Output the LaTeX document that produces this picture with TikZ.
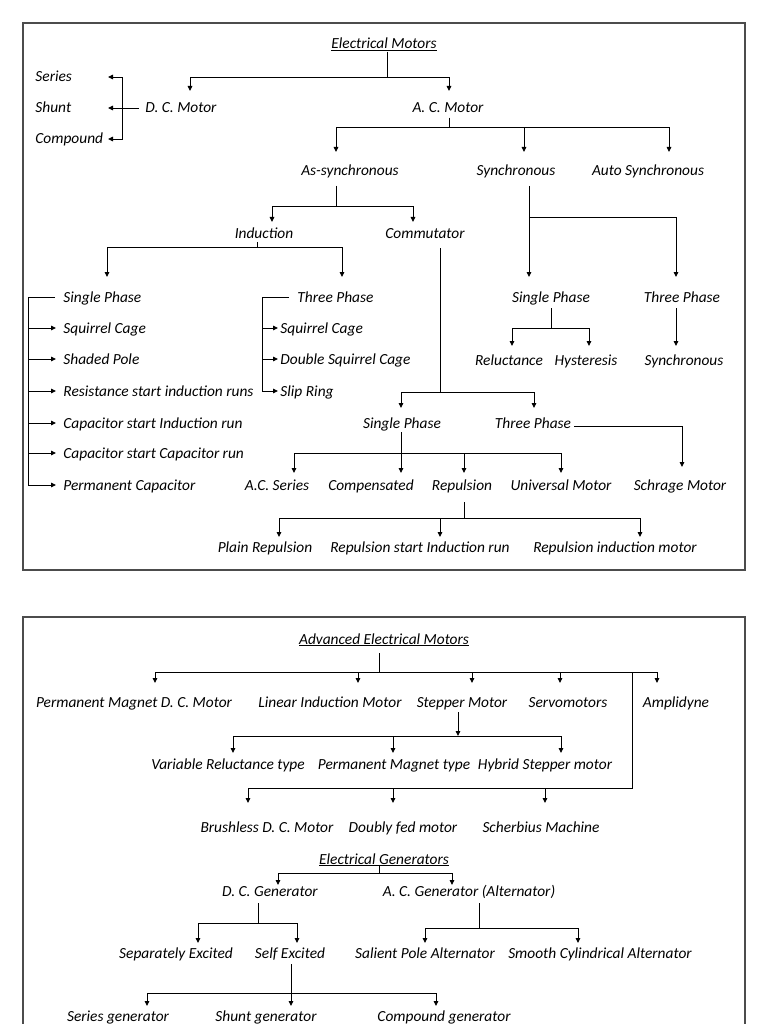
\documentclass[tikz,border=0pt]{standalone}
\usepackage{fontspec}
\setmainfont{Carlito}
\usetikzlibrary{arrows.meta}

\begin{document}
\begin{tikzpicture}[x=1pt,y=-1pt,line width=0.9pt,
    font=\fontsize{15.4}{18}\selectfont\itshape,
    >={Triangle[length=5pt,width=4.5pt]},
    lbl/.style={inner sep=0pt, text height=10pt, text depth=0pt},
    frame/.style={draw=black!70, line width=1.3pt}]
    \fill[white] (0,0) rectangle (768,1024);
    \useasboundingbox (0,0) rectangle (768,1024);
    % Cuadros
    \draw[frame] (23,23) rectangle (745,570);
    \draw[frame] (23,1024) -- (23,617) -- (745,617) -- (745,1024);

    % Electrical Motors
    \node[lbl] (em) at (384,44) {\underline{Electrical Motors}};
    \node[lbl] (dcm) at (181,108) {D. C. Motor};
    \node[lbl] (acm) at (448,108) {A. C. Motor};
    \draw[->] (em.center) ++(3,8) -- ++(0,25) -| ([shift={(9,-17)}]dcm.center);
    \draw[->] (em.center) ++(3,8) -- ++(0,25) -| ([shift={(1,-17)}]acm.center);

    % D. C. Motor
    \node[lbl,anchor=west] (ser) at (35,77) {Series};
    \node[lbl,anchor=west] (shu) at (35,108) {Shunt};
    \node[lbl,anchor=west] (cpd) at (35,139) {Compound};
    \coordinate (db) at (108,108);
    \draw[->] ([xshift=-6pt]dcm.west) -- (db);
    \draw[<->] (db |- ser) -- ++(14,0) |- (db |- cpd);

    % A. C. Motor
    \node[lbl] (asy) at (350,171) {As-synchronous};
    \node[lbl] (syn) at (516,171) {Synchronous};
    \node[lbl] (aut) at (648,171) {Auto Synchronous};
    \draw[->] (acm.center) ++(1,10) -- ++(0,9) -| ([shift={(-14,-19)}]asy.center);
    \draw[->] (acm.center) ++(1,10) -- ++(0,9) -| ([shift={(8,-19)}]syn.center);
    \draw[->] (acm.center) ++(1,10) -- ++(0,9) -| ([shift={(21,-19)}]aut.center);

    % As-synchronous
    \node[lbl] (ind) at (264,233) {Induction};
    \node[lbl] (com) at (425,233) {Commutator};
    \draw[->] (asy.center) ++(-14,15) -- ++(0,20) -| ([shift={(8,-11)}]ind.center);
    \draw[->] (asy.center) ++(-14,15) -- ++(0,20) -| ([shift={(-12,-11)}]com.center);

    % Induction
    \node[lbl,anchor=west] (isp) at (63,297) {Single Phase};
    \node[lbl,anchor=west] (isq) at (63,328) {Squirrel Cage};
    \node[lbl,anchor=west] (ish) at (63,359) {Shaded Pole};
    \node[lbl,anchor=west] (irs) at (63,391) {Resistance start induction runs};
    \node[lbl,anchor=west] (ici) at (63,423) {Capacitor start Induction run};
    \node[lbl,anchor=west] (icc) at (63,453) {Capacitor start Capacitor run};
    \node[lbl,anchor=west] (ipc) at (63,485) {Permanent Capacitor};
    \node[lbl,anchor=west] (itp) at (297,297) {Three Phase};
    \node[lbl,anchor=west] (tsq) at (280,328) {Squirrel Cage};
    \node[lbl,anchor=west] (tds) at (280,359) {Double Squirrel Cage};
    \node[lbl,anchor=west] (tsr) at (280,391) {Slip Ring};
    \draw[->] (ind.center) ++(-7,9) -- ++(0,5) -| ([shift={(44,-20)}]isp.west);
    \draw[->] (ind.center) ++(-7,9) -- ++(0,5) -| ([shift={(45,-20)}]itp.west);
    \coordinate (ib) at (28,297);
    \draw ([xshift=-8pt]isp.west) -- (ib) -- (ib |- ipc);
    \foreach \n in {isq,ish,irs,ici,icc,ipc}
        \draw[->] (ib |- \n) -- ([xshift=-7pt]\n.west);
    \coordinate (tb) at (262,297);
    \draw ([xshift=-8pt]itp.west) -- (tb) -- (tb |- tsr);
    \foreach \n in {tsq,tds,tsr}
        \draw[->] (tb |- \n) -- ([xshift=-2pt]\n.west);

    % Synchronous
    \node[lbl] (ssp) at (551,297) {Single Phase};
    \node[lbl] (stp) at (682,297) {Three Phase};
    \node[lbl] (rel) at (509,360) {Reluctance};
    \node[lbl] (hys) at (586,360) {Hysteresis};
    \node[lbl] (ssy) at (684,360) {Synchronous};
    \draw[->] (syn.center) ++(13,15) -- ([shift={(-22,-20)}]ssp.center);
    \draw[->] (syn.center) ++(13,46) -| ([shift={(-6,-20)}]stp.center);
    \draw[->] (ssp.center) ++(0,11) -- ++(0,20) -| ([shift={(3,-14)}]rel.center);
    \draw[->] (ssp.center) ++(0,11) -- ++(0,20) -| ([shift={(3,-14)}]hys.center);
    \draw[->] (stp.center) ++(-6,11) -- ([shift={(-8,-14)}]ssy.center);

    % Commutator
    \node[lbl] (csp) at (402,423) {Single Phase};
    \node[lbl] (ctp) at (533,423) {Three Phase};
    \draw[->] (com.center) ++(15,15) -- ++(0,144) -| ([shift={(-1,-15)}]csp.center);
    \draw[->] (com.center) ++(15,15) -- ++(0,144) -| ([shift={(1,-15)}]ctp.center);
    \node[lbl] (sch) at (680,485) {Schrage Motor};
    \draw[->] ([shift={(3,3)}]ctp.east) -| ([shift={(2,-18)}]sch.center);
    \node[lbl] (acs) at (277,485) {A.C. Series};
    \node[lbl] (cmn) at (371,485) {Compensated};
    \node[lbl] (rep) at (462,485) {Repulsion};
    \node[lbl] (uni) at (561,485) {Universal Motor};
    \draw[->] (csp.center) ++(-1,9) -- ([shift={(30,-12)}]cmn.center);
    \draw[->] (csp.center) ++(-1,9) -- ++(0,21) -| ([shift={(17,-12)}]acs.center);
    \draw[->] (csp.center) ++(-1,9) -- ++(0,21) -| ([shift={(2,-12)}]rep.center);
    \draw[->] (csp.center) ++(-1,9) -- ++(0,21) -| ([shift={(0,-12)}]uni.center);

    % Repulsion
    \node[lbl] (plr) at (265,547) {Plain Repulsion};
    \node[lbl] (rsi) at (420,547) {Repulsion start Induction run};
    \node[lbl] (rim) at (615,547) {Repulsion induction motor};
    \draw[->] (rep.center) ++(2,17) -- ++(0,16) -| ([shift={(14,-10)}]plr.center);
    \draw[->] (rep.center) ++(2,17) -- ++(0,16) -| ([shift={(20,-10)}]rsi.center);
    \draw[->] (rep.center) ++(2,17) -- ++(0,16) -| ([shift={(25,-10)}]rim.center);

    % Advanced Electrical Motors
    \node[lbl] (aem) at (384,639) {\underline{Advanced Electrical Motors}};
    \node[lbl] (pmd) at (134,702) {Permanent Magnet D. C. Motor};
    \node[lbl] (lim) at (330,702) {Linear Induction Motor};
    \node[lbl] (stm) at (462,702) {Stepper Motor};
    \node[lbl] (svm) at (568,702) {Servomotors};
    \node[lbl] (amp) at (676,702) {Amplidyne};
    \draw[->] (aem.center) ++(-5,14) -- ++(0,19) -| ([shift={(21,-19)}]pmd.center);
    \draw[->] (aem.center) ++(-5,14) -- ++(0,19) -| ([shift={(28,-19)}]lim.center);
    \draw[->] (aem.center) ++(-5,14) -- ++(0,19) -| ([shift={(10,-19)}]stm.center);
    \draw[->] (aem.center) ++(-5,14) -- ++(0,19) -| ([shift={(-8,-19)}]svm.center);
    \draw[->] (aem.center) ++(-5,14) -- ++(0,19) -| ([shift={(-19,-19)}]amp.center);

    % Stepper Motor
    \node[lbl] (vrt) at (228,764) {Variable Reluctance type};
    \node[lbl] (pmt) at (394,764) {Permanent Magnet type};
    \node[lbl] (hsm) at (545,764) {Hybrid Stepper motor};
    \coordinate (sb) at (458,736);
    \draw[->] (stm.center) ++(-4,10) -- (sb);
    \draw[->] (sb) -| ([shift={(5,-11)}]vrt.center);
    \draw[->] (sb) -| ([shift={(-1,-11)}]pmt.center);
    \draw[->] (sb) -| ([shift={(16,-11)}]hsm.center);

    % rama inferior
    \node[lbl] (bdc) at (267,827) {Brushless D. C. Motor};
    \node[lbl] (dfm) at (403,827) {Doubly fed motor};
    \node[lbl] (scm) at (541,827) {Scherbius Machine};
    \draw[->] (aem.center) ++(-5,14) -- ++(0,19) -- ++(253,0) -- ++(0,116) -| ([shift={(-19,-24)}]bdc.center);
    \draw[->] (aem.center) ++(248,33) -- ++(0,116) -| ([shift={(-10,-24)}]dfm.center);
    \draw[->] (aem.center) ++(248,33) -- ++(0,116) -| ([shift={(4,-24)}]scm.center);

    % Electrical Generators
    \node[lbl] (eg) at (384,859) {\underline{Electrical Generators}};
    \node[lbl] (dcg) at (270,891) {D. C. Generator};
    \node[lbl] (acg) at (469,891) {A. C. Generator (Alternator)};
    \draw[->] (eg.center) ++(-5,7) -- ++(0,7) -| ([shift={(8,-6)}]dcg.center);
    \draw[->] (eg.center) ++(-5,7) -- ++(0,7) -| ([shift={(-17,-6)}]acg.center);
    \node[lbl] (sep) at (176,953) {Separately Excited};
    \node[lbl] (sex) at (290,953) {Self Excited};
    \node[lbl] (spa) at (425,953) {Salient Pole Alternator};
    \node[lbl] (sca) at (600,953) {Smooth Cylindrical Alternator};
    \draw[->] (dcg.center) ++(-12,12) -- ++(0,20) -| ([shift={(22,-10)}]sep.center);
    \draw[->] (dcg.center) ++(-12,12) -- ++(0,20) -| ([shift={(7,-10)}]sex.center);
    \draw[->] (acg.center) ++(10,12) -- ++(0,25) -| ([shift={(0,-10)}]spa.center);
    \draw[->] (acg.center) ++(10,12) -- ++(0,25) -| ([shift={(-22,-10)}]sca.center);
    \node[lbl] (sg) at (118,1016) {Series generator};
    \node[lbl] (shg) at (266,1016) {Shunt generator};
    \node[lbl] (cg) at (444,1016) {Compound generator};
    \draw[->] (sex.center) ++(1,11) -- ([shift={(25,-10)}]shg.center);
    \draw[->] (sex.center) ++(1,11) -- ++(0,29) -| ([shift={(29,-10)}]sg.center);
    \draw[->] (sex.center) ++(1,11) -- ++(0,29) -| ([shift={(-8,-10)}]cg.center);
\end{tikzpicture}
\end{document}
